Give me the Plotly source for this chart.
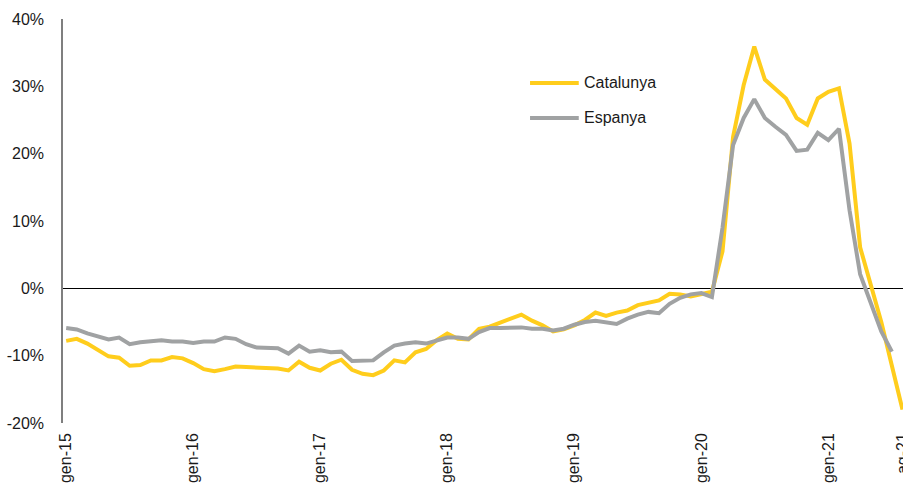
import plotly.graph_objects as go

month_names = ["gen", "febr", "març", "abr", "maig", "juny", "jul", "ag", "set", "oct", "nov", "des"]
years = [15, 16, 17, 18, 19, 20, 21]
months_all = [f"{m}-{y}" for y in years for m in month_names]

catalunya = [
    -7.8, -7.5, -8.2, -9.2, -10.1, -10.3, -11.5, -11.4, -10.7, -10.7, -10.2, -10.4,
    -11.1, -12.0, -12.3, -12.0, -11.6, -11.7, -11.8, -11.9, -11.9, -12.2, -10.9, -11.8,
    -12.2, -11.2, -10.6, -12.1, -12.7, -12.9, -12.2, -10.7, -11.0, -9.5, -9.0, -7.7,
    -6.7, -7.5, -7.6, -6.0, -5.7, -5.1, -4.5, -3.9, -4.8, -5.5, -6.4, -6.1,
    -5.5, -4.7, -3.6, -4.1, -3.6, -3.3, -2.5, -2.1, -1.8, -0.8, -0.9, -1.2,
    -0.9, -0.5, 5.5, 22.5, 30.2, 35.9, 31.0, 29.6, 28.2, 25.3, 24.3, 28.2,
    29.2, 29.7, 21.5, 6.1, 0.5, -5.0, -11.5, -18.0,
]
espanya = [
    -5.9, -6.1, -6.7, -7.1, -7.6, -7.3, -8.3, -8.0, -7.8, -7.7, -7.9, -7.9,
    -8.1, -7.9, -7.9, -7.3, -7.5, -8.3, -8.8, -8.8, -8.9, -9.7, -8.5, -9.4,
    -9.2, -9.5, -9.4, -10.8, -10.8, -10.7, -9.5, -8.5, -8.2, -8.0, -8.2, -7.7,
    -7.3, -7.3, -7.5, -6.5, -5.9, -5.9, -5.9, -5.8, -6.0, -6.0, -6.25, -6.0,
    -5.4, -5.0, -4.8, -5.0, -5.3, -4.5, -3.9, -3.5, -3.7, -2.3, -1.4, -0.9,
    -0.7, -1.3, 9.0, 21.3, 25.3, 28.1, 25.3, 24.0, 22.8, 20.4, 20.6, 23.1,
    22.0, 23.7, 11.6, 2.1, -2.0, -6.4, -9.4,
]
months = months_all[:len(catalunya)]
tick_labels = ["gen-15", "gen-16", "gen-17", "gen-18", "gen-19", "gen-20", "gen-21", "ag-21"]
y_ticks = [-20, -10, 0, 10, 20, 30, 40]
y_tick_text = [f"{v}%" for v in y_ticks]

YELLOW = "#FFCD1C"
GRAY = "#A0A2A3"
FONT = "Liberation Sans, Arial, sans-serif"

fig = go.Figure()
fig.add_trace(go.Scatter(x=months[:len(catalunya)], y=catalunya, mode="lines", name="Catalunya",
                         line=dict(color=YELLOW, width=4), showlegend=False))
fig.add_trace(go.Scatter(x=months[:len(espanya)], y=espanya, mode="lines", name="Espanya",
                         line=dict(color=GRAY, width=4), showlegend=False))

# manual legend
legend_items = [("Catalunya", YELLOW, 0.8416), ("Espanya", GRAY, 0.755)]
for name, color, yp in legend_items:
    fig.add_shape(type="line", xref="paper", yref="paper", x0=0.556, x1=0.614, y0=yp, y1=yp,
                  line=dict(color=color, width=4))
    fig.add_annotation(text=name, xref="paper", yref="paper", x=0.6179, y=yp, xanchor="left",
                       yanchor="middle", showarrow=False, font=dict(size=16, color="#1a1a1a", family=FONT))

fig.update_layout(
    width=903, height=483,
    margin=dict(l=63, r=0, t=19, b=60),
    paper_bgcolor="white", plot_bgcolor="white",
    font=dict(family=FONT, size=16, color="#1a1a1a"),
    xaxis=dict(type="category", categoryorder="array", categoryarray=months,
               range=[-0.3, 79.05], tickmode="array", tickvals=tick_labels, ticktext=tick_labels,
               tickangle=-90, showgrid=False, zeroline=False, showline=False, ticks="",
               ticklabelstandoff=6, automargin=False),
    yaxis=dict(range=[-20, 40], tickmode="array", tickvals=y_ticks, ticktext=y_tick_text,
               showgrid=False, zeroline=True, zerolinecolor="black", zerolinewidth=1,
               showline=True, linecolor="#7f7f7f", linewidth=1.5, ticks="",
               ticklabelstandoff=14, automargin=False),
)

fig.write_html(
    "out.html",
    config={"displayModeBar": False},
    post_script="document.body.style.margin='0';document.body.style.overflow='hidden';",
)
